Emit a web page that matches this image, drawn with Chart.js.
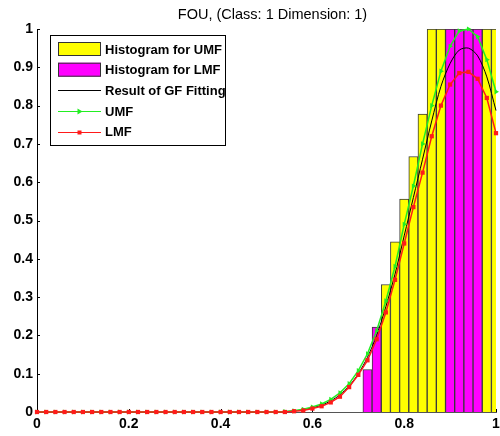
<!DOCTYPE html>
<html>
<head>
<meta charset="utf-8">
<script src="https://cdn.jsdelivr.net/npm/chart.js@4"></script>
<style>
  html, body { margin: 0; padding: 0; background: #fff; }
  #wrap { width: 500px; height: 436px; }
</style>
</head>
<body>
<div id="wrap"><canvas id="fouChart"></canvas></div>
<script>
// sample positions of the membership curves
const curveX = [0, 0.02, 0.04, 0.06, 0.08, 0.1, 0.12, 0.14, 0.16, 0.18,
    0.2, 0.22, 0.24, 0.26, 0.28, 0.3, 0.32, 0.34, 0.36, 0.38,
    0.4, 0.42, 0.44, 0.46, 0.48, 0.5, 0.52, 0.54, 0.56, 0.58,
    0.6, 0.62, 0.64, 0.66, 0.68, 0.7, 0.72, 0.74, 0.76, 0.78,
    0.8, 0.82, 0.84, 0.86, 0.88, 0.9, 0.92, 0.94, 0.96, 0.98, 1];

// upper membership function (green)
const umfValues = [0, 0, 0, 0, 0, 0, 0, 0, 0, 0,
    0, 0, 0, 0, 0, 0, 0, 0, 0, 0,
    0, 0, 0, 0, 0, 0, 0, 0.001, 0.003, 0.007,
    0.013, 0.021, 0.033, 0.05, 0.074, 0.108, 0.152, 0.212, 0.29, 0.38,
    0.49, 0.59, 0.70, 0.80, 0.89, 0.955, 0.995, 1.0, 0.98, 0.92, 0.836];

// lower membership function (red)
const lmfValues = [0, 0, 0, 0, 0, 0, 0, 0, 0, 0,
    0, 0, 0, 0, 0, 0, 0, 0, 0, 0,
    0, 0, 0, 0, 0, 0, 0, 0, 0.002, 0.004,
    0.009, 0.015, 0.025, 0.04, 0.065, 0.097, 0.135, 0.19, 0.26, 0.345,
    0.44, 0.535, 0.625, 0.72, 0.80, 0.855, 0.885, 0.888, 0.87, 0.82, 0.728];

// gaussian fit result (black)
const gfValues = [0, 0, 0, 0, 0, 0, 0, 0, 0, 0,
    0, 0, 0, 0, 0, 0, 0, 0, 0, 0,
    0, 0, 0, 0, 0, 0, 0, 0.001, 0.003, 0.006,
    0.011, 0.018, 0.029, 0.045, 0.068, 0.10, 0.143, 0.20, 0.275, 0.36,
    0.46, 0.56, 0.66, 0.76, 0.85, 0.91, 0.945, 0.95, 0.93, 0.875, 0.787];

// histogram bins
const histX = [0.72, 0.74, 0.76, 0.78, 0.8, 0.82, 0.84, 0.86, 0.88, 0.9, 0.92, 0.94, 0.96, 0.98, 1];
const histUMF = [null, null, 0.333, 0.444, 0.556, 0.667, 0.778, 1, 1, 1, 1, 1, 1, 1, 1];
const histLMF = [0.111, 0.222, null, null, null, null, null, null, null, 1, 1, 1, 1, null, null];

const xTicks = [0, 0.2, 0.4, 0.6, 0.8, 1];

const FONT = '"Liberation Sans", Arial, Helvetica, sans-serif';
Chart.defaults.font.family = FONT;
Chart.defaults.color = '#000';

function toPoints(xs, ys) {
    return xs.map((x, i) => ({ x: x, y: ys[i] }));
}

// MATLAB style labels: 0, 0.2, ..., 1
function tickLabel(value) {
    return String(Number(value.toFixed(1)));
}

// small inward tick marks like the original axes
const innerTicks = {
    id: 'innerTicks',
    beforeDatasetsDraw(chart) {
        const ctx = chart.ctx;
        const xs = chart.scales.x;
        const ys = chart.scales.y;
        ctx.save();
        ctx.strokeStyle = '#000';
        ctx.lineWidth = 1;
        ctx.beginPath();
        ys.ticks.forEach(t => {
            const py = Math.round(ys.getPixelForValue(t.value)) + 0.5;
            ctx.moveTo(xs.left, py);
            ctx.lineTo(xs.left + 3, py);
        });
        xs.ticks.forEach(t => {
            const px = Math.round(xs.getPixelForValue(t.value)) + 0.5;
            ctx.moveTo(px, ys.bottom);
            ctx.lineTo(px, ys.bottom - 3);
        });
        ctx.stroke();
        ctx.restore();
    }
};

// the original title sits a little right of the axes centre
const titleShift = {
    id: 'titleShift',
    afterLayout(chart) {
        const t = chart.titleBlock;
        if (t) {
            t.left += 6;
            t.right += 6;
        }
    }
};

// boxed legend inside the plot, top left
const boxLegend = {
    id: 'boxLegend',
    afterDraw(chart) {
        const ctx = chart.ctx;
        const left = chart.chartArea.left + 13;
        const top = chart.chartArea.top + 6;
        const w = 175, h = 110;
        ctx.save();
        ctx.fillStyle = '#fff';
        ctx.fillRect(left + 0.5, top + 0.5, w, h);
        ctx.strokeStyle = '#000';
        ctx.lineWidth = 1;
        ctx.strokeRect(left + 0.5, top + 0.5, w, h);
        ctx.font = 'bold 13px ' + FONT;
        ctx.textBaseline = 'middle';
        const x0 = left + 8, x1 = left + 51;
        chart.data.datasets.forEach((ds, i) => {
            const cy = top + 14 + i * 20.7;
            if (ds.type === 'bar') {
                ctx.fillStyle = ds.backgroundColor;
                ctx.fillRect(x0, cy - 7, x1 - x0, 14);
                ctx.strokeStyle = '#333';
                ctx.strokeRect(x0 + 0.5, cy - 6.5, x1 - x0 - 1, 13);
            } else {
                ctx.strokeStyle = ds.borderColor;
                ctx.lineWidth = 1;
                ctx.beginPath();
                ctx.moveTo(x0, Math.round(cy) + 0.5);
                ctx.lineTo(x1, Math.round(cy) + 0.5);
                ctx.stroke();
                if (ds.pointRadius > 0) {
                    const mx = (x0 + x1) / 2;
                    ctx.fillStyle = ds.borderColor;
                    if (ds.pointStyle === 'triangle') {
                        ctx.beginPath();
                        ctx.moveTo(mx + 3, cy + 0.5);
                        ctx.lineTo(mx - 2, cy - 2.5);
                        ctx.lineTo(mx - 2, cy + 3.5);
                        ctx.closePath();
                        ctx.fill();
                    } else {
                        ctx.fillRect(mx - 2, Math.round(cy) - 1.5, 4, 4);
                    }
                }
            }
            ctx.fillStyle = '#000';
            ctx.fillText(ds.label, x1 + 4, cy + 1);
        });
        ctx.restore();
    }
};

function initializeChart() {
    const ctx = document.getElementById('fouChart').getContext('2d');

    new Chart(ctx, {
        type: 'bar',
        data: {
            datasets: [
                {
                    type: 'bar',
                    label: 'Histogram for UMF',
                    data: toPoints(histX, histUMF),
                    backgroundColor: '#ffff00',
                    borderColor: '#3a3a3a',
                    borderWidth: 1,
                    barPercentage: 1,
                    categoryPercentage: 1,
                    grouped: false,
                    order: 5
                },
                {
                    type: 'bar',
                    label: 'Histogram for LMF',
                    data: toPoints(histX, histLMF),
                    backgroundColor: '#ff00ff',
                    borderColor: '#3a3a3a',
                    borderWidth: 1,
                    barPercentage: 1,
                    categoryPercentage: 1,
                    grouped: false,
                    order: 4
                },
                {
                    type: 'line',
                    label: 'Result of GF Fitting',
                    data: toPoints(curveX, gfValues),
                    borderColor: '#000000',
                    borderWidth: 1,
                    pointRadius: 0,
                    tension: 0.3,
                    clip: false,
                    order: 3
                },
                {
                    type: 'line',
                    label: 'UMF',
                    data: toPoints(curveX, umfValues),
                    borderColor: '#22ee22',
                    backgroundColor: '#22ee22',
                    borderWidth: 1.5,
                    pointStyle: 'triangle',
                    pointRotation: 90,
                    pointRadius: 3,
                    pointBorderWidth: 0,
                    tension: 0,
                    clip: false,
                    order: 2
                },
                {
                    type: 'line',
                    label: 'LMF',
                    data: toPoints(curveX, lmfValues),
                    borderColor: '#ff1a1a',
                    backgroundColor: '#ff1a1a',
                    borderWidth: 1.5,
                    pointStyle: 'rect',
                    pointRadius: 3,
                    pointBorderWidth: 0,
                    tension: 0,
                    clip: false,
                    order: 1
                }
            ]
        },
        options: {
            responsive: true,
            maintainAspectRatio: false,
            animation: false,
            devicePixelRatio: 1,
            layout: { padding: { left: 0, right: 0, top: 0, bottom: 0 } },
            scales: {
                x: {
                    type: 'linear',
                    min: 0,
                    max: 1,
                    offset: false,
                    afterFit: scale => {
                        scale.height = 24;
                        scale.paddingRight = 4;
                    },
                    afterBuildTicks: scale => {
                        scale.ticks = xTicks.map(v => ({ value: v }));
                    },
                    grid: { display: false, drawTicks: false },
                    border: { display: true, color: '#555', width: 1 },
                    ticks: {
                        color: '#000',
                        padding: 4,
                        maxRotation: 0,
                        font: { size: 14, weight: 'bold' },
                        callback: tickLabel
                    }
                },
                y: {
                    min: 0,
                    max: 1,
                    afterFit: scale => { scale.width = 37; },
                    grid: { display: false, drawTicks: false },
                    border: { display: true, color: '#000', width: 1 },
                    ticks: {
                        stepSize: 0.1,
                        color: '#000',
                        padding: 4,
                        font: { size: 14, weight: 'bold' },
                        callback: tickLabel
                    }
                }
            },
            plugins: {
                legend: { display: false },
                tooltip: { enabled: false },
                title: {
                    display: true,
                    fullSize: false,
                    text: 'FOU, (Class: 1 Dimension: 1)',
                    color: '#000',
                    font: { size: 14.5, weight: 'normal' },
                    padding: { top: 6, bottom: 5.6 }
                }
            }
        },
        plugins: [innerTicks, titleShift, boxLegend]
    });
}

initializeChart();
</script>
</body>
</html>
